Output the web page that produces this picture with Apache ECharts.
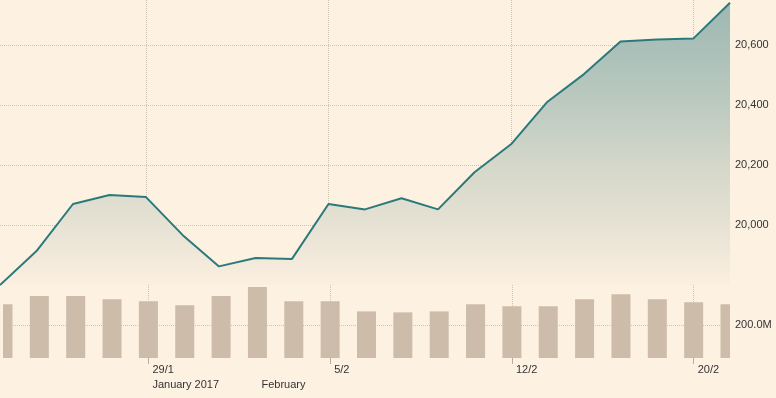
<!DOCTYPE html>
<html>

<head>
    <meta charset="utf-8">
    <script src="https://cdn.jsdelivr.net/npm/echarts@6.0.0/dist/echarts.min.js"></script>
    <style>
        html, body { margin: 0; padding: 0; background: #fdf1e2; }
        #chart { width: 776px; height: 398px; }
    </style>
</head>

<body>
    <div id="chart"></div>
</body>

<script type="text/javascript">
    // trading days, one point each
    var days = ['23/1', '24/1', '25/1', '26/1', '27/1', '30/1', '31/1', '1/2', '2/2', '3/2',
        '6/2', '7/2', '8/2', '9/2', '10/2', '13/2', '14/2', '15/2', '16/2', '17/2', '21/2'];
    var dayLabels = ['', '', '', '', '29/1', '', '', '', '', '5/2',
        '', '', '', '', '12/2', '', '', '', '', '20/2', ''];
    var monthLabels = ['', '', '', '', 'January 2017', '', '', 'February', '', '',
        '', '', '', '', '', '', '', '', '', '', ''];
    var closeValues = [19800, 19913, 20070, 20100, 20093, 19967, 19862, 19890, 19887, 20070,
        20052, 20089, 20052, 20176, 20269, 20411, 20503, 20612, 20618, 20622, 20741];
    // volume, millions
    var volumeValues = [324, 373, 373, 354, 342, 318, 373, 428, 342, 342,
        281, 275, 281, 324, 312, 312, 354, 385, 354, 336, 324];

    var gridColor = '#cfc3b3';
    var textStyle = { color: '#333', fontSize: 11, fontFamily: '"Liberation Sans", Arial, sans-serif' };

    var labelled = function (idx) {
        return dayLabels[idx] !== '';
    };

    // volume bars, clipped to the grid (bar series won't clip on a non-band axis)
    var renderVolume = function (params, api) {
        var top = api.coord([api.value(0), api.value(1)]);
        var base = api.coord([api.value(0), 0]);
        var w = 19;
        var rect = echarts.graphic.clipRectByRect({
            x: top[0] - w / 2,
            y: top[1],
            width: w,
            height: base[1] - top[1]
        }, {
            x: params.coordSys.x,
            y: params.coordSys.y,
            width: params.coordSys.width,
            height: params.coordSys.height
        });
        return rect && {
            type: 'rect',
            shape: rect,
            style: { fill: '#cdbcaa' }
        };
    };

    option = {
        backgroundColor: '#fdf1e2',
        animation: false,
        grid: [
            { left: 0, right: 46, top: 0, height: 285 },
            { left: 0, right: 46, top: 285, height: 73 }
        ],
        xAxis: [
            {
                type: 'category',
                gridIndex: 0,
                boundaryGap: false,
                data: days,
                axisLine: { show: false },
                axisTick: { show: false },
                axisLabel: { show: false },
                splitLine: {
                    show: true,
                    interval: labelled,
                    lineStyle: { color: gridColor, type: 'dotted' }
                }
            },
            {
                type: 'category',
                gridIndex: 1,
                position: 'bottom',
                boundaryGap: false,
                data: days,
                axisLine: { show: false },
                axisTick: {
                    show: true,
                    interval: labelled,
                    length: 6,
                    lineStyle: { color: '#b9ada0' }
                },
                axisLabel: Object.assign({
                    interval: 0,
                    align: 'left',
                    margin: 6,
                    padding: [0, 0, 0, 4],
                    formatter: function (v, i) { return dayLabels[i]; }
                }, textStyle),
                splitLine: {
                    show: true,
                    interval: labelled,
                    lineStyle: { color: gridColor, type: 'dotted' }
                }
            },
            {
                type: 'category',
                gridIndex: 1,
                position: 'bottom',
                boundaryGap: false,
                data: days,
                offset: 15,
                axisLine: { show: false },
                axisTick: { show: false },
                axisLabel: Object.assign({
                    interval: 0,
                    align: 'left',
                    margin: 6,
                    padding: [0, 0, 0, 4],
                    formatter: function (v, i) { return monthLabels[i]; }
                }, textStyle),
                splitLine: { show: false }
            }
        ],
        yAxis: [
            {
                type: 'value',
                gridIndex: 0,
                position: 'right',
                min: 19800,
                max: 20750,
                interval: 200,
                axisLine: { show: false },
                axisTick: { show: false },
                axisLabel: Object.assign({
                    margin: 5,
                    showMinLabel: false,
                    showMaxLabel: false,
                    formatter: function (v) {
                        if (v < 20000 || v > 20600) return '';
                        return echarts.format.addCommas(v);
                    }
                }, textStyle),
                splitLine: {
                    show: true,
                    lineStyle: {
                        color: ['transparent', gridColor, gridColor, gridColor, gridColor, 'transparent'],
                        type: 'dotted'
                    }
                }
            },
            {
                type: 'value',
                gridIndex: 1,
                position: 'right',
                min: 0,
                max: 440,
                interval: 200,
                axisLine: { show: false },
                axisTick: { show: false },
                axisLabel: Object.assign({
                    margin: 5,
                    formatter: function (v) { return v === 200 ? '200.0M' : ''; }
                }, textStyle),
                splitLine: {
                    show: true,
                    lineStyle: {
                        color: ['transparent', gridColor, 'transparent', 'transparent'],
                        type: 'dotted'
                    }
                }
            }
        ],
        series: [
            {
                name: 'Close',
                type: 'line',
                xAxisIndex: 0,
                yAxisIndex: 0,
                symbol: 'none',
                lineStyle: { color: '#2b7a7b', width: 2 },
                areaStyle: {
                    opacity: 1,
                    color: new echarts.graphic.LinearGradient(0, 0, 0, 1, [
                        { offset: 0, color: '#9db8b2' },
                        { offset: 0.15, color: '#a9bfb8' },
                        { offset: 0.36, color: '#bccac0' },
                        { offset: 0.57, color: '#d4d7c9' },
                        { offset: 0.79, color: '#e6e2d4' },
                        { offset: 1, color: '#fbefe0' }
                    ])
                },
                data: closeValues
            },
            {
                name: 'Volume',
                type: 'custom',
                xAxisIndex: 1,
                yAxisIndex: 1,
                renderItem: renderVolume,
                encode: { x: 0, y: 1 },
                data: volumeValues.map(function (v, i) { return [i, v]; })
            }
        ]
    };

    var chart = echarts.init(document.getElementById('chart'));
    chart.setOption(option);
</script>

</html>
